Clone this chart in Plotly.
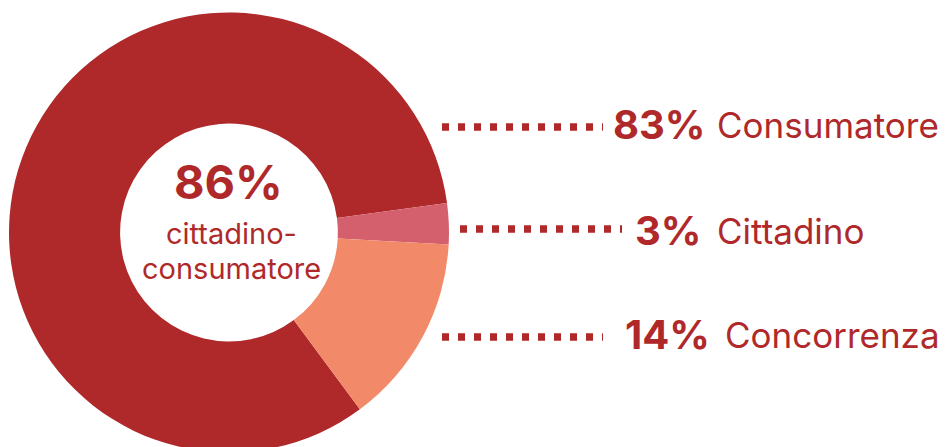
import plotly.graph_objects as go

# ---- data ----
labels = ["Consumatore", "Cittadino", "Concorrenza"]
values = [83, 3, 14]
colors = ["#B0292A", "#D5606D", "#F28A6A"]
center_value = "86%"
center_lines = ["cittadino-", "consumatore"]

W, H = 947, 465  # figure taller than window so bottom of ring is clipped
RED = "#B0292A"
FONT = "Inter, Roboto, sans-serif"


def px(x):
    return x / W


def py(y):
    return 1 - y / H


fig = go.Figure()
fig.add_trace(go.Pie(
    labels=labels,
    values=values,
    sort=False,
    direction="clockwise",
    rotation=143.5,
    hole=0.495,
    marker=dict(colors=colors, line=dict(width=0)),
    textinfo="none",
    hoverinfo="label+percent",
    domain=dict(x=[px(9), px(449)], y=[0, 1]),
    showlegend=False,
))

annotations = []
# centre text
annotations.append(dict(x=px(228), y=py(182), xref="paper", yref="paper",
                        text="<b>%s</b>" % center_value, showarrow=False,
                        xanchor="center", yanchor="middle",
                        font=dict(family=FONT, size=47, color=RED)))
for txt, yy in zip(center_lines, [233, 268]):
    annotations.append(dict(x=px(231), y=py(yy), xref="paper", yref="paper",
                            text=txt, showarrow=False,
                            xanchor="center", yanchor="middle",
                            font=dict(family=FONT, size=29, color=RED)))

# right-side labels
row_y_num = [124.5, 230, 334.5]
row_y_name = [125, 231.5, 335]
num_right = [707, 703, 712]
name_left = [715, 715, 723]
line_x = [(442, 603), (460, 622), (442, 603)]
line_y = [127, 229, 337]

shapes = []
for i, (lab, v) in enumerate(zip(labels, values)):
    annotations.append(dict(x=px(num_right[i]), y=py(row_y_num[i]), xref="paper", yref="paper",
                            text="<b>%d%%</b>" % v, showarrow=False,
                            xanchor="right", yanchor="middle",
                            font=dict(family=FONT, size=40, color=RED)))
    annotations.append(dict(x=px(name_left[i]), y=py(row_y_name[i]), xref="paper", yref="paper",
                            text=lab, showarrow=False,
                            xanchor="left", yanchor="middle",
                            font=dict(family=FONT, size=35, color=RED)))
    x0, x1 = line_x[i]
    shapes.append(dict(type="line", xref="paper", yref="paper",
                       x0=px(x0), x1=px(x1), y0=py(line_y[i]), y1=py(line_y[i]),
                       line=dict(color=RED, width=7.5, dash="7px,9px")))

fig.update_layout(
    width=W, height=H,
    margin=dict(l=0, r=0, t=0, b=0),
    paper_bgcolor="white",
    plot_bgcolor="white",
    annotations=annotations,
    shapes=shapes,
)

post = ("document.documentElement.style.overflow='hidden';"
        "document.body.style.overflow='hidden';"
        "document.body.style.margin='0';")
fig.write_html("out.html", post_script=post, config={"displayModeBar": False})
